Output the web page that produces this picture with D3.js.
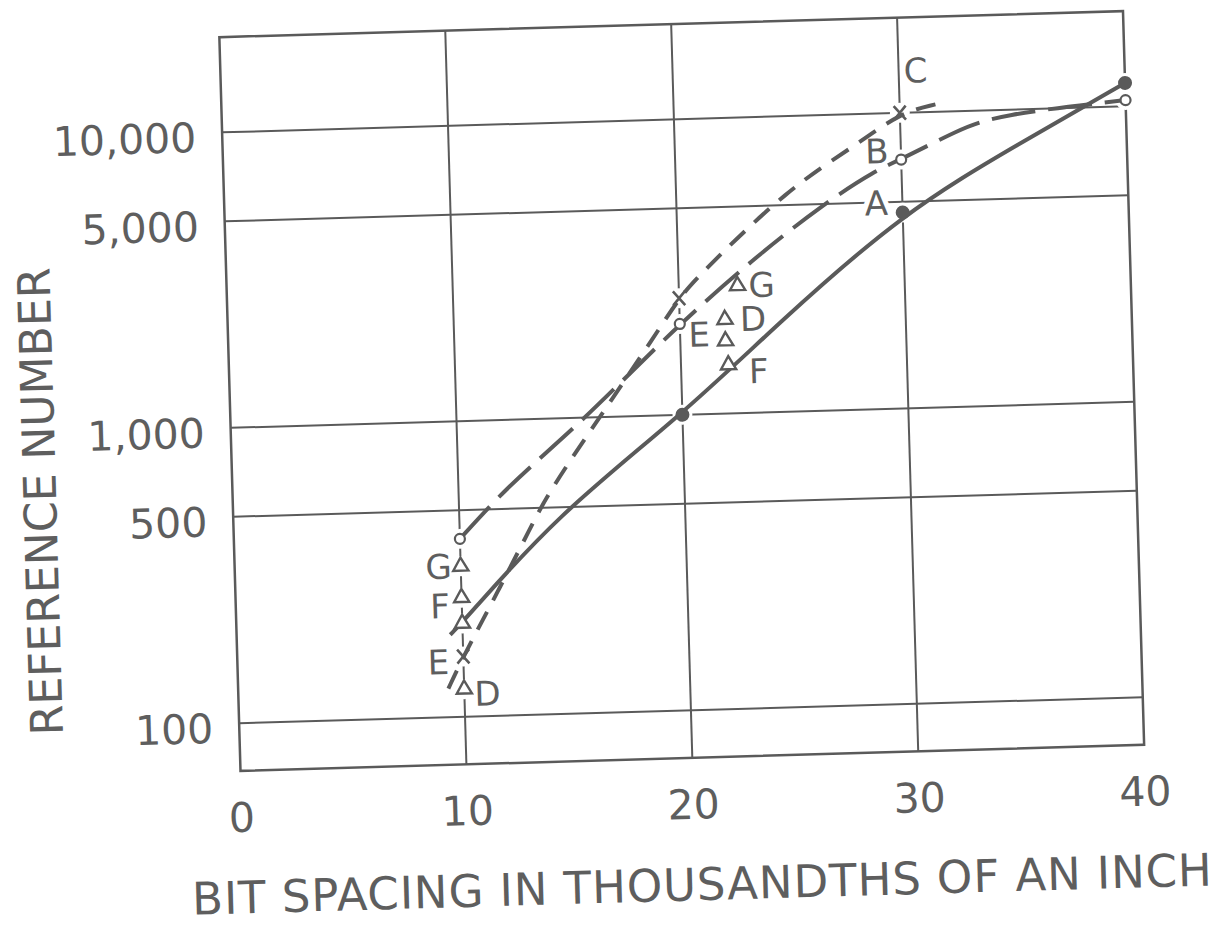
<!DOCTYPE html>
<html>
<head>
<meta charset="utf-8">
<title>reference number vs bit spacing</title>
<style>
  body { margin: 0; background: #fff; }
  svg text { font-family: "DejaVu Sans", sans-serif; fill: #5e5e5e; }
</style>
</head>
<body>
<script src="https://cdn.jsdelivr.net/npm/d3@7/dist/d3.min.js"></script>
<script>
// axes
var xTicks = [0, 10, 20, 30, 40];
var xGrid = [10, 20, 30];
var yTicks = [100, 500, 1000, 5000, 10000];
var yTickLabels = ['100', '500', '1,000', '5,000', '10,000'];

// curve A, solid
var aX = [9.45, 10.1, 14.3, 20, 24.3, 30, 35.3, 40];
var aY = [190, 212, 470, 1000, 1980, 4600, 7700, 12000];
// curve B, long dashes
var bX = [10, 11.8, 13.3, 15.3, 17.3, 20, 23.3, 26.5, 28.9, 30, 32.5, 34.3, 40];
var bY = [400, 555, 700, 940, 1300, 2030, 3300, 5000, 6450, 6950, 8600, 9640, 10500];
// curve C, short dashes
var cX = [9.3, 10, 11.6, 13.2, 13.9, 15.55, 16.35, 18.96, 20, 20.9, 25, 28, 30, 31.6];
var cY = [125, 160, 262, 438, 548, 828, 1000, 1900, 2480, 2950, 5720, 7820, 10000, 10600];

// measured points
var dotX = [20, 30, 40];
var dotY = [1000, 4600, 12000];
var ringX = [10, 20, 30, 40];
var ringY = [400, 2030, 6950, 10500];
var crossX = [10, 20, 30];
var crossY = [160, 2480, 10000];
var triX = [10, 10, 10, 10, 22.6, 22, 22, 22.1];
var triY = [323, 253, 207, 124, 2700, 2080, 1760, 1460];

// letters written beside the points
var labelText = ['A', 'B', 'C', 'E', 'G', 'D', 'F', 'G', 'F', 'E', 'D'];
var labelX = [30, 30, 30, 20, 22.6, 22, 22.1, 10, 10, 10, 10];
var labelY = [4600, 6950, 10000, 2030, 2700, 2080, 1460, 323, 253, 160, 124];

var width = 1223, height = 940;
var ink = '#5a5a5a';

var svg = d3.select('body').append('svg')
  .attr('width', width).attr('height', height)
  .style('background', '#fff');

// the scan is turned a little, so the whole sheet is turned too
var g = svg.append('g').attr('transform', 'rotate(-1.65,682,400)');

var x = d3.scaleLinear().domain([0, 40]).range([230, 1134]);
var y = d3.scaleLog().domain([69, 21000]).range([758, 24]);

// grid
g.selectAll('.vgrid').data(xGrid).enter().append('line')
  .attr('class', 'vgrid')
  .attr('x1', d => x(d)).attr('x2', d => x(d))
  .attr('y1', y.range()[1]).attr('y2', y.range()[0])
  .attr('stroke', ink).attr('stroke-width', 2);
g.selectAll('.hgrid').data(yTicks).enter().append('line')
  .attr('class', 'hgrid')
  .attr('x1', x(0)).attr('x2', x(40))
  .attr('y1', d => y(d)).attr('y2', d => y(d))
  .attr('stroke', ink).attr('stroke-width', 2);
g.append('rect')
  .attr('x', x(0)).attr('y', y.range()[1])
  .attr('width', x(40) - x(0)).attr('height', y.range()[0] - y.range()[1])
  .attr('fill', 'none').attr('stroke', ink).attr('stroke-width', 2.5);

// tick labels
g.selectAll('.ylab').data(yTicks).enter().append('text')
  .attr('class', 'ylab')
  .attr('x', 204).attr('y', d => y(d) + 5)
  .attr('text-anchor', 'end').attr('dominant-baseline', 'central')
  .style('font-size', '41px')
  .text((d, i) => yTickLabels[i]);
g.selectAll('.xlab').data(xTicks).enter().append('text')
  .attr('class', 'xlab')
  .attr('x', d => x(d)).attr('y', 805)
  .attr('text-anchor', 'middle').attr('dominant-baseline', 'central')
  .style('font-size', '41px')
  .text(d => d);

// axis titles
g.append('text')
  .attr('transform', 'translate(38,483) rotate(-90)')
  .attr('text-anchor', 'middle').attr('dominant-baseline', 'central')
  .attr('textLength', 468).attr('lengthAdjust', 'spacingAndGlyphs')
  .style('font-size', '45px')
  .text('REFERENCE NUMBER');
g.append('text')
  .attr('x', 688).attr('y', 885)
  .attr('text-anchor', 'middle').attr('dominant-baseline', 'central')
  .attr('textLength', 1020).attr('lengthAdjust', 'spacing')
  .style('font-size', '45px')
  .text('BIT SPACING IN THOUSANDTHS OF AN INCH');

// letter placement next to each point
var labelOffset = [[-26, -10], [-24, -9], [17, -42], [19, 11], [24, 0], [28, 0], [30, 7],
                   [-22, 0], [-22, 8], [-25, 5], [23, 5]];
var labelData = labelText.map((t, i) => ({t: t, x: labelX[i], y: labelY[i], o: labelOffset[i]}));

// white gaps in the grid round letters and points
g.selectAll('.halo').data(labelData).enter().append('text')
  .attr('class', 'halo')
  .attr('x', d => x(d.x) + d.o[0]).attr('y', d => y(d.y) + d.o[1])
  .attr('text-anchor', 'middle').attr('dominant-baseline', 'central')
  .style('font-size', '34px').style('fill', '#fff')
  .attr('stroke', '#fff').attr('stroke-width', 10)
  .text(d => d.t);
var allPts = []
  .concat(dotX.map((v, i) => [v, dotY[i]]))
  .concat(ringX.map((v, i) => [v, ringY[i]]))
  .concat(crossX.map((v, i) => [v, crossY[i]]))
  .concat(triX.map((v, i) => [v, triY[i]]));
g.selectAll('.ptHalo').data(allPts).enter().append('circle')
  .attr('class', 'ptHalo')
  .attr('cx', d => x(d[0])).attr('cy', d => y(d[1]))
  .attr('r', 10).attr('fill', '#fff');

// curves
var line = d3.line()
  .x(d => x(d[0])).y(d => y(d[1]))
  .curve(d3.curveBasis);
function pairs(xs, ys) { return xs.map((v, i) => [v, ys[i]]); }

g.append('path').datum(pairs(aX, aY))
  .attr('d', line).attr('fill', 'none')
  .attr('stroke', ink).attr('stroke-width', 4);
g.append('path').datum(pairs(bX, bY))
  .attr('d', line).attr('fill', 'none')
  .attr('stroke', ink).attr('stroke-width', 4)
  .attr('stroke-dasharray', '44,13');
g.append('path').datum(pairs(cX, cY))
  .attr('d', line).attr('fill', 'none')
  .attr('stroke', ink).attr('stroke-width', 4)
  .attr('stroke-dasharray', '20,13');

// points
g.selectAll('.dot').data(pairs(dotX, dotY)).enter().append('circle')
  .attr('class', 'dot')
  .attr('cx', d => x(d[0])).attr('cy', d => y(d[1]))
  .attr('r', 7).attr('fill', ink);
g.selectAll('.ring').data(pairs(ringX, ringY)).enter().append('circle')
  .attr('class', 'ring')
  .attr('cx', d => x(d[0])).attr('cy', d => y(d[1]))
  .attr('r', 5).attr('fill', '#fff')
  .attr('stroke', ink).attr('stroke-width', 2.2);
g.selectAll('.cross').data(pairs(crossX, crossY)).enter().append('path')
  .attr('class', 'cross')
  .attr('transform', d => 'translate(' + x(d[0]) + ',' + y(d[1]) + ')')
  .attr('d', 'M-6,-7L6,7M6,-7L-6,7')
  .attr('fill', 'none').attr('stroke', ink).attr('stroke-width', 2.6);
g.selectAll('.tri').data(pairs(triX, triY)).enter().append('path')
  .attr('class', 'tri')
  .attr('transform', d => 'translate(' + x(d[0]) + ',' + y(d[1]) + ')')
  .attr('d', d3.symbol().type(d3.symbolTriangle).size(100))
  .attr('fill', '#fff').attr('stroke', ink).attr('stroke-width', 2.4);

// letters
g.selectAll('.lab').data(labelData).enter().append('text')
  .attr('class', 'lab')
  .attr('x', d => x(d.x) + d.o[0]).attr('y', d => y(d.y) + d.o[1])
  .attr('text-anchor', 'middle').attr('dominant-baseline', 'central')
  .style('font-size', '34px')
  .text(d => d.t);
</script>
</body>
</html>
